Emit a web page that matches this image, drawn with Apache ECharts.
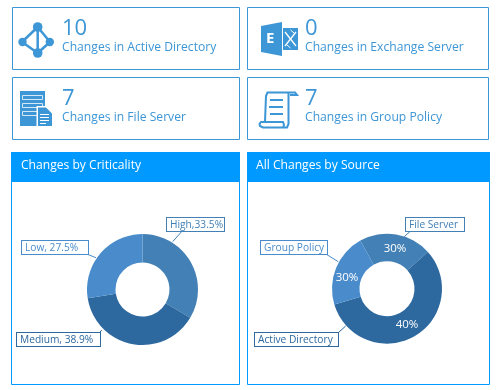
<!DOCTYPE html>
<html>
<head>
<meta charset="utf-8">
<style>html,body{margin:0;padding:0;background:#fff}#main{width:500px;height:390px}</style>
<script src="https://cdn.jsdelivr.net/npm/echarts@6/dist/echarts.min.js"></script>
</head>
<body>
<div id="main"></div>
<script>
// summary cards
let cardCounts = [10, 0, 7, 7];
let cardTexts = ['Changes in Active Directory', 'Changes in Exchange Server', 'Changes in File Server', 'Changes in Group Policy'];

// left donut
let criticalityNames = ['High', 'Medium', 'Low'];
let criticalityValues = [33.5, 38.9, 27.5];
let criticalityLabels = ['High,33.5%', 'Medium, 38.9%', 'Low, 27.5%'];

// right donut, slice sizes, printed labels differ from them
let sourceNames = ['File Server', 'Active Directory', 'Group Policy'];
let sourceValues = [21.4, 57.0, 21.6];
let sourceLabels = ['30%', '40%', '30%'];

let blue = '#3d96d6';
let headerBlue = '#0099ff';
let sliceColors = ['#4380b5', '#2d689f', '#4a8ccb'];
let fontName = '"Open Sans"';

function box(x, y, w, h, color) {
    return { type: 'rect', shape: { x: x, y: y, width: w, height: h }, style: { fill: '#fff', stroke: color, lineWidth: 1 } };
}
function txt(x, y, text, size, color) {
    return { type: 'text', x: x, y: y, style: { text: text, font: size + 'px ' + fontName, fill: color, textVerticalAlign: 'middle' } };
}
function dot(x, y, r) {
    return { type: 'circle', shape: { cx: x, cy: y, r: r }, style: { fill: blue } };
}
function bar(x, y, w, h, color) {
    return { type: 'rect', shape: { x: x, y: y, width: w, height: h }, style: { fill: color } };
}
function seg(x1, y1, x2, y2, w, color) {
    return { type: 'line', shape: { x1: x1, y1: y1, x2: x2, y2: y2 }, style: { stroke: color || blue, lineWidth: w } };
}
function poly(points, fill) {
    return { type: 'polygon', shape: { points: points }, style: { fill: fill } };
}
function trace(points, w) {
    return { type: 'polyline', shape: { points: points }, style: { fill: 'none', stroke: blue, lineWidth: w } };
}

let cardSpots = [[12.5, 7.5, 227, 62], [247.5, 7.5, 241, 62], [12.5, 77.5, 227, 62], [247.5, 77.5, 241, 62]];
let graphics = [];
cardSpots.forEach(function (c, i) {
    graphics.push(box(c[0], c[1], c[2], c[3], blue));
    graphics.push(txt(c[0] + (i % 2 ? 57.5 : 49.5), c[1] + 21, String(cardCounts[i]), 22, blue));
    graphics.push(txt(c[0] + (i % 2 ? 57.5 : 49.5), c[1] + 40.5, cardTexts[i], 12.15, blue));
});

// panels
graphics.push(box(11.5, 152.5, 228, 232, headerBlue), bar(11, 152, 229, 30, headerBlue));
graphics.push(box(247.5, 152.5, 242, 232, headerBlue), bar(247, 152, 243, 30, headerBlue));
graphics.push(txt(21, 166, 'Changes by Criticality', 12.1, '#fff'));
graphics.push(txt(256, 166, 'All Changes by Source', 12.1, '#fff'));

// active directory icon
graphics.push(
    seg(37.7, 27, 22, 42, 2.5), seg(37.7, 27, 50, 42, 2.5), seg(22, 42, 37.7, 53, 2.5), seg(50, 42, 37.7, 53, 2.5), seg(37.7, 27, 37.7, 53, 2.5),
    dot(37.7, 27, 4.8), dot(22.5, 42, 4.2), dot(49.8, 42, 4.2), dot(37.7, 53, 4.8)
);

// file server icon
graphics.push(
    bar(20, 91, 25, 35, blue),
    { type: 'rect', shape: { x: 22.5, y: 95.5, width: 20, height: 4 }, style: { fill: blue, stroke: '#d5e8f6', lineWidth: 1 } },
    { type: 'rect', shape: { x: 22.5, y: 103.5, width: 20, height: 4 }, style: { fill: blue, stroke: '#d5e8f6', lineWidth: 1 } },
    { type: 'rect', shape: { x: 22.5, y: 111.5, width: 20, height: 4 }, style: { fill: blue, stroke: '#d5e8f6', lineWidth: 1 } },
    poly([[36.5, 106], [46, 106], [53, 113], [53, 127], [36.5, 127]], '#fff'),
    poly([[38, 107.5], [46, 107.5], [52, 113.5], [52, 126], [38, 126]], blue),
    bar(40, 114, 9, 1, '#fff'), bar(40, 117, 9, 1, '#fff'), bar(40, 120, 9, 1, '#fff'), bar(40, 123, 6, 1, '#fff')
);

// exchange icon
graphics.push(
    poly([[261, 26], [282, 22], [282, 56], [261, 52]], blue),
    bar(283, 28, 15, 22, blue),
    { type: 'text', x: 266, y: 39, style: { text: 'E', font: 'bold 15px ' + fontName, fill: '#fff', textVerticalAlign: 'middle' } },
    seg(285, 32, 296, 46, 1.3, '#fff'), seg(296, 32, 285, 46, 1.3, '#fff'),
    seg(290.5, 30, 294, 33, 1, '#fff'), seg(287, 45, 290.5, 48, 1, '#fff')
);

// group policy scroll icon
graphics.push(
    trace([[265, 122], [266, 96], [267.5, 92.5], [295, 92.5], [297, 95], [290, 95]], 2),
    trace([[288.5, 93], [288.5, 124], [287, 127.5], [263, 127.5], [260, 126], [259.5, 124], [261, 122], [283, 122], [284, 125], [283, 127.5]], 2),
    bar(270, 99, 13, 2, blue), bar(269, 106, 14, 2, blue), bar(270, 113, 13, 2, blue)
);

// label box corners and leader lines, in data order
function fixedLabels(spots, leaders) {
    return function (params) {
        let s = spots[params.dataIndex];
        let l = leaders[params.dataIndex];
        return { x: s[0], y: s[1], align: 'left', verticalAlign: 'top', labelLinePoints: [l[0], l[0], l[1]] };
    };
}
function centeredLabels(spots) {
    return function (params) {
        let s = spots[params.dataIndex];
        return { x: s[0], y: s[1], align: 'center', verticalAlign: 'middle' };
    };
}

function outerLabel(text, color, w) {
    return {
        formatter: text,
        color: color,
        borderColor: color,
        borderWidth: 1,
        backgroundColor: '#fff',
        padding: [1, 3, 0, 3],
        width: w,
        height: 12,
        lineHeight: 12,
        overflow: 'none',
        align: 'center',
        fontFamily: fontName,
        fontSize: 10.2
    };
}

function donutData(names, values, labels, widths) {
    return names.map(function (n, i) {
        return {
            name: n,
            value: values[i],
            itemStyle: { color: sliceColors[i] },
            label: outerLabel(labels[i], sliceColors[i], widths[i]),
            labelLine: { lineStyle: { color: sliceColors[i], width: 1 } }
        };
    });
}

let chartOption = {
    animation: false,
    graphic: { elements: graphics.map(function (g) { g.z = 0; return g; }) },
    series: [
        {
            type: 'pie',
            center: [142.5, 289.5],
            radius: [27, 55.5],
            startAngle: 90,
            silent: true,
            z: 5,
            data: donutData(criticalityNames, criticalityValues, criticalityLabels, [51, 77, 60]),
            labelLine: { show: true, length: 10, length2: 0 },
            labelLayout: fixedLabels(
                [[167, 218], [17, 333], [22, 241]],
                [[[172.7, 241.7], [181.7, 231.5]], [[101.7, 330], [99, 333.5]], [[96, 257.7], [88, 254.5]]]
            )
        },
        {
            type: 'pie',
            center: [387, 288.7],
            radius: [27.5, 55],
            startAngle: 119,
            silent: true,
            z: 5,
            data: donutData(sourceNames, sourceValues, sourceNames, [52, 77, 60]),
            labelLine: { show: true, length: 10, length2: 0 },
            labelLayout: fixedLabels(
                [[406, 218], [255, 333], [261, 241]],
                [[[404.3, 236.7], [410, 231.5]], [[345.7, 326], [338.3, 332.7]], [[338.3, 261.7], [326.7, 254.5]]]
            )
        },
        {
            type: 'pie',
            center: [387, 288.7],
            radius: [27.5, 55],
            startAngle: 119,
            silent: true,
            z: 6,
            itemStyle: { color: 'transparent' },
            label: { position: 'inside', color: '#fff', fontFamily: fontName, fontSize: 11.5, formatter: function (p) { return sourceLabels[p.dataIndex]; } },
            labelLine: { show: false },
            labelLayout: centeredLabels([[395, 249], [407, 325], [347, 278]]),
            data: sourceNames.map(function (n, i) { return { name: n, value: sourceValues[i] }; })
        }
    ]
};

let chart = echarts.init(document.getElementById('main'), null, { renderer: 'canvas' });
chart.setOption(chartOption);
</script>
</body>
</html>
